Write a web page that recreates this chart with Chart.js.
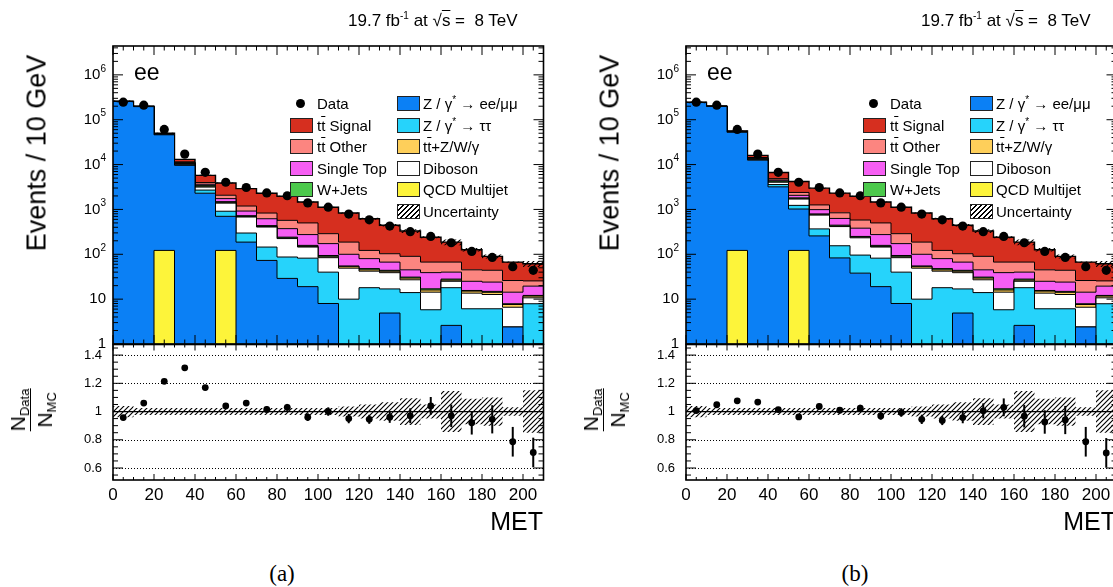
<!DOCTYPE html>
<html>
<head>
<meta charset="utf-8">
<title>MET ee control region</title>
<script src="https://cdn.jsdelivr.net/npm/chart.js@4.4.0/dist/chart.umd.min.js"></script>
<style>
  html, body { margin: 0; padding: 0; background: #fff; }
  body { width: 1113px; height: 587px; overflow: hidden; position: relative;
         font-family: "Liberation Sans", Arial, sans-serif; color: #000; }
  .fig { position: absolute; top: 0; width: 573px; height: 587px; }
  .fig canvas { position: absolute; left: 0; }
  .lbl { position: absolute; white-space: nowrap; line-height: 1; }
  .title { font-size: 17px; left: 348px; top: 12px; }
  .title sup { font-size: 10px; vertical-align: 7px; line-height: 0; }
  .ov { text-decoration: overline; text-decoration-thickness: 1px; }
  .ee { font-size: 23px; left: 134px; top: 61px; }
  .ytitle { font-size: 27px; left: 37px; top: 153px; transform: translate(-50%, -50%) rotate(-90deg); }
  .met { font-size: 25px; right: 30px; top: 509px; }
  .cap { font-family: "Liberation Serif", serif; font-size: 23px; top: 562px; left: 282px; transform: translateX(-50%); }
  .rtitle { left: 31px; top: 410px; transform: translate(-50%, -50%) rotate(-90deg);
            display: flex; flex-direction: column; align-items: center; font-size: 21px; }
  .rtitle sub { font-size: 13px; vertical-align: -4px; line-height: 0; }
  .rtitle .bar { align-self: stretch; height: 1px; background: #000; margin: 2px 0 3px 0; }
  .leg { font-size: 15px; }
  .sw { position: absolute; width: 23px; height: 15px; border: 1px solid #222; box-sizing: border-box; }
  .dot { position: absolute; width: 9px; height: 9px; border-radius: 50%; background: #000; }
</style>
</head>
<body>
<div class="fig" id="figA" style="left:0px"></div>
<div class="fig" id="figB" style="left:573px"></div>
<script>
// MET bins, 10 GeV wide
const binLow = [0, 10, 20, 30, 40, 50, 60, 70, 80, 90, 100, 110, 120, 130, 140, 150, 160, 170, 180, 190, 200];
const binHigh = 210;

// stacked backgrounds, bottom to top (events / bin)
const qcdMultijet = [0, 0, 122, 0, 0, 122, 0, 0, 0, 0, 0, 0, 0, 0, 0, 0, 0, 0, 0, 0, 0];
const zllA = [255000, 196000, 46000, 9600, 2300, 580, 187, 73, 29, 19, 8, 0, 0, 4.9, 0, 0, 2.6, 0, 0, 2.4, 0];
const zllB = [242000, 197700, 52400, 12530, 3190, 900, 257, 83, 38, 19, 8, 0, 0, 4.9, 0, 0, 2.6, 0, 0, 2.4, 0];
const ztautau = [800, 1200, 1000, 500, 400, 210, 111, 72, 58, 63, 32, 10, 18, 12, 14, 5.8, 15.4, 6.1, 6.1, 0, 7.9];
const diboson = [300, 500, 600, 500, 450, 470, 379, 260, 137, 63, 44, 39, 24, 22, 13, 8.5, 7, 7.5, 6.6, 4.2, 2.8];
const ttV = [5, 10, 15, 20, 40, 30, 15, 10, 7, 5, 4, 4, 3, 3, 2.5, 1.7, 1.5, 1.5, 1.5, 1, 1];
const wJets = [300, 300, 250, 350, 250, 80, 34, 21, 10, 8, 6, 2, 3, 2, 1.5, 1, 1.5, 0.5, 0.7, 0.3, 0.4];
const singleTop = [40, 100, 150, 200, 200, 250, 194, 184, 132, 117, 79, 45, 32, 23, 14, 22, 12, 9.4, 9.1, 6.4, 7.4];
const ttOther = [150, 300, 400, 300, 330, 330, 270, 210, 198, 225, 115, 87, 42, 36, 45, 28, 27, 20, 20, 11.7, 6];
const ttSignal = [400, 900, 1500, 1600, 1780, 1810, 1720, 1470, 1390, 960, 832, 643, 498, 340, 240, 173, 120, 81, 46, 41, 36];

// observed events
const dataCounts = [246000, 211000, 60700, 17100, 6730, 4040, 3085, 2335, 2020, 1400, 1120, 789, 586, 425, 320, 250, 181, 116, 85, 53, 44];

// data / MC ratio panels
const ratioA = [0.957, 1.06, 1.214, 1.31, 1.17, 1.04, 1.06, 1.015, 1.03, 0.96, 1.0, 0.95, 0.945, 0.96, 0.97, 1.04, 0.97, 0.92, 0.945, 0.786, 0.71];
const ratioB = [1.007, 1.048, 1.076, 1.067, 1.014, 0.962, 1.036, 1.01, 1.024, 0.969, 0.993, 0.945, 0.936, 0.957, 1.005, 1.03, 0.967, 0.926, 0.94, 0.786, 0.707];
const ratioErr = [0.003, 0.003, 0.005, 0.01, 0.015, 0.018, 0.02, 0.022, 0.024, 0.027, 0.03, 0.033, 0.032, 0.04, 0.053, 0.063, 0.08, 0.083, 0.1, 0.105, 0.105];
const relUnc = [0.04, 0.025, 0.025, 0.025, 0.025, 0.025, 0.025, 0.025, 0.025, 0.025, 0.025, 0.035, 0.05, 0.065, 0.095, 0.05, 0.145, 0.09, 0.1, 0.03, 0.15];

const colors = {
  qcd: '#fdf43a', zll: '#0b80f5', ztt: '#26d3fb', dib: '#ffffff', ttv: '#fecf5a',
  wj: '#4cc94c', st: '#f65ef3', tto: '#fc8580', tts: '#d62f1f'
};

const FONT = '"Liberation Sans", Arial, sans-serif';

function hatchPattern() {
  const c = document.createElement('canvas');
  c.width = 4.5; c.height = 4.5;
  c.width = 5; c.height = 5;
  const g = c.getContext('2d');
  g.strokeStyle = '#000';
  g.lineWidth = 1.15;
  g.beginPath();
  g.moveTo(0, 5); g.lineTo(5, 0);
  g.moveTo(-1, 1); g.lineTo(1, -1);
  g.moveTo(4, 6); g.lineTo(6, 4);
  g.stroke();
  return g.createPattern(c, 'repeat');
}

// histogram outline points: value i covers [binLow[i], binLow[i+1]]
function steps(vals) {
  const pts = vals.map((v, i) => ({ x: binLow[i], y: v }));
  pts.push({ x: binHigh, y: vals[vals.length - 1] });
  return pts;
}

const rootAxes = {
  id: 'rootAxes',
  beforeDatasetsDraw(chart, args, o) {
    if (!o.grid) return;
    const { ctx, chartArea: a } = chart;
    const y = chart.scales.y;
    ctx.save();
    ctx.strokeStyle = '#000';
    ctx.lineWidth = 1;
    ctx.setLineDash([1, 2]);
    o.grid.forEach(v => {
      const py = Math.round(y.getPixelForValue(v)) + 0.5;
      ctx.beginPath(); ctx.moveTo(a.left, py); ctx.lineTo(a.right, py); ctx.stroke();
    });
    ctx.restore();
  },
  afterDatasetsDraw(chart, args, o) {
    const { ctx, chartArea: a } = chart;
    const x = chart.scales.x, y = chart.scales.y;
    const seg = (x1, y1, x2, y2) => { ctx.beginPath(); ctx.moveTo(x1, y1); ctx.lineTo(x2, y2); ctx.stroke(); };
    ctx.save();
    ctx.strokeStyle = '#000';
    ctx.fillStyle = '#000';

    // error bars on the ratio points
    if (o.values) {
      ctx.lineWidth = 2;
      o.values.forEach((r, i) => {
        const px = x.getPixelForValue(binLow[i] + 5);
        seg(px, y.getPixelForValue(r - o.errors[i]), px, y.getPixelForValue(r + o.errors[i]));
      });
    }

    // ticks inside the frame, all four sides
    ctx.lineWidth = 1;
    for (let v = 0; v <= 210; v += 5) {
      const px = x.getPixelForValue(v);
      const len = v % 20 === 0 ? o.xMajor : o.xMinor;
      seg(px, a.bottom, px, a.bottom - len);
      seg(px, a.top, px, a.top + len);
    }
    o.yTicks.forEach(t => {
      const py = y.getPixelForValue(t.v);
      const len = t.major ? 10 : 5;
      seg(a.left, py, a.left + len, py);
      seg(a.right, py, a.right - len, py);
    });

    ctx.lineWidth = 1.6;
    ctx.strokeRect(a.left, a.top, a.right - a.left, a.bottom - a.top);

    // tick labels
    ctx.textBaseline = 'middle';
    ctx.textAlign = 'right';
    o.yLabels.forEach(l => {
      const py = y.getPixelForValue(l.v);
      const xr = a.left - o.labelGap;
      if (l.sup) {
        ctx.font = '10px ' + FONT;
        const w = ctx.measureText(l.sup).width;
        ctx.fillText(l.sup, xr, py - 6);
        ctx.font = o.yFont + 'px ' + FONT;
        ctx.fillText(l.text, xr - w, py);
      } else {
        ctx.font = o.yFont + 'px ' + FONT;
        ctx.fillText(l.text, xr, py);
      }
    });
    if (o.xLabels) {
      ctx.textAlign = 'center';
      ctx.textBaseline = 'top';
      ctx.font = '17px ' + FONT;
      for (let v = 0; v <= 200; v += 20) {
        ctx.fillText(String(v), x.getPixelForValue(v), a.bottom + 7);
      }
    }
    ctx.restore();
  }
};

function logTicks() {
  const t = [];
  for (let k = 0; k <= 6; k++) {
    for (let m = 1; m <= 9; m++) {
      const v = m * Math.pow(10, k);
      if (v < 4.4e6) t.push({ v: v, major: m === 1 });
    }
  }
  return t;
}
function ratioTicks() {
  const t = [];
  for (let i = 11; i <= 29; i++) t.push({ v: i * 0.05, major: i % 4 === 0 });
  return t;
}

function makeCanvas(host, top, h) {
  const c = document.createElement('canvas');
  c.width = 573; c.height = h;
  c.style.width = '573px'; c.style.height = h + 'px';
  c.style.top = top + 'px';
  host.appendChild(c);
  return c;
}

function addLabel(host, cls, html, style) {
  const d = document.createElement('div');
  d.className = 'lbl ' + cls;
  d.innerHTML = html;
  if (style) Object.assign(d.style, style);
  host.appendChild(d);
  return d;
}

const legendRows = [103.5, 125.3, 146.7, 168, 189.5, 211];
const legendCol1 = [
  ['Data', 'dot'],
  ['t<span class="ov">t</span> Signal', colors.tts],
  ['t<span class="ov">t</span> Other', colors.tto],
  ['Single Top', colors.st],
  ['W+Jets', colors.wj]
];
const legendCol2 = [
  ['Z / &gamma;<sup style="font-size:10px;vertical-align:6px;line-height:0">*</sup> &rarr; ee/&mu;&mu;', colors.zll],
  ['Z / &gamma;<sup style="font-size:10px;vertical-align:6px;line-height:0">*</sup> &rarr; &tau;&tau;', colors.ztt],
  ['t<span class="ov">t</span>+Z/W/&gamma;', colors.ttv],
  ['Diboson', colors.dib],
  ['QCD Multijet', colors.qcd],
  ['Uncertainty', 'hatch']
];

function buildLegend(host) {
  const cols = [[legendCol1, 289.5, 317], [legendCol2, 396.5, 423]];
  cols.forEach(([entries, sx, tx]) => {
    entries.forEach(([text, sw], r) => {
      const cy = legendRows[r];
      const m = document.createElement('div');
      if (sw === 'dot') {
        m.className = 'dot';
        Object.assign(m.style, { left: (sx + 6.5) + 'px', top: (cy - 4.5) + 'px' });
      } else {
        m.className = 'sw';
        Object.assign(m.style, { left: sx + 'px', top: (cy - 7.5) + 'px' });
        if (sw === 'hatch') {
          m.style.background = 'repeating-linear-gradient(135deg, #000 0 1px, #fff 1px 3.5px)';
        } else {
          m.style.background = sw;
        }
      }
      host.appendChild(m);
      addLabel(host, 'leg', text, { left: tx + 'px', top: (cy - 7.4) + 'px' });
    });
  });
}

function buildFigure(host, zll, ratio, tag) {
  const hatch = hatchPattern();
  const layers = [
    [qcdMultijet, colors.qcd], [zll, colors.zll], [ztautau, colors.ztt], [diboson, colors.dib],
    [ttV, colors.ttv], [wJets, colors.wj], [singleTop, colors.st], [ttOther, colors.tto], [ttSignal, colors.tts]
  ];
  const floor = 0.3; // log axis cannot show empty bins, keep them below the frame
  let cum = binLow.map(() => 0);
  const datasets = [];
  layers.forEach(([vals, col], k) => {
    cum = cum.map((c, i) => c + vals[i]);
    datasets.push({
      data: steps(cum.map(v => Math.max(v, floor))),
      stepped: true,
      fill: k === 0 ? 'start' : '-1',
      backgroundColor: col,
      borderColor: '#000',
      borderWidth: k === layers.length - 1 ? 1.4 : 1,
      pointRadius: 0,
      order: 1
    });
  });
  const total = cum;
  datasets.push({
    data: steps(total.map((t, i) => t * (1 - relUnc[i]))),
    stepped: true, fill: false, borderWidth: 0, pointRadius: 0, order: 0
  });
  datasets.push({
    data: steps(total.map((t, i) => t * (1 + relUnc[i]))),
    stepped: true, fill: '-1', backgroundColor: hatch, borderWidth: 0, pointRadius: 0, order: 0
  });
  datasets.push({
    data: dataCounts.map((v, i) => ({ x: binLow[i] + 5, y: v })),
    showLine: false, pointRadius: 4.6, pointBackgroundColor: '#000', pointBorderWidth: 0, order: -1
  });

  const decadeLabels = [
    { v: 1, text: '1' }, { v: 10, text: '10' }, { v: 100, text: '10', sup: '2' }, { v: 1e3, text: '10', sup: '3' },
    { v: 1e4, text: '10', sup: '4' }, { v: 1e5, text: '10', sup: '5' }, { v: 1e6, text: '10', sup: '6' }
  ];

  new Chart(makeCanvas(host, 0, 360), {
    type: 'line',
    data: { datasets: datasets },
    options: {
      responsive: false, animation: false, events: [],
      layout: { padding: { left: 113, right: 29.5, top: 46, bottom: 16 } },
      scales: {
        x: { type: 'linear', min: 0, max: 210, bounds: 'data', display: false },
        y: { type: 'logarithmic', min: 1, max: 4.4e6, bounds: 'data', display: false }
      },
      plugins: {
        legend: { display: false }, tooltip: { enabled: false },
        rootAxes: { xMajor: 9, xMinor: 4.5, yTicks: logTicks(), yLabels: decadeLabels, yFont: 15, labelGap: 7, xLabels: false }
      }
    },
    plugins: [rootAxes]
  });

  const rData = [
    { data: steps(relUnc.map(u => 1 - u)), stepped: true, fill: false, borderWidth: 0, pointRadius: 0, order: 2 },
    { data: steps(relUnc.map(u => 1 + u)), stepped: true, fill: '-1', backgroundColor: hatch, borderWidth: 0, pointRadius: 0, order: 2 },
    { data: [{ x: 0, y: 1 }, { x: 210, y: 1 }], borderColor: '#000', borderWidth: 1.2, pointRadius: 0, fill: false, order: 1 },
    { data: ratio.map((v, i) => ({ x: binLow[i] + 5, y: v })), showLine: false, pointRadius: 3.4,
      pointBackgroundColor: '#000', pointBorderWidth: 0, order: 0 }
  ];
  const ratioLabels = [
    { v: 0.6, text: '0.6' }, { v: 0.8, text: '0.8' }, { v: 1, text: '1' }, { v: 1.2, text: '1.2' }, { v: 1.4, text: '1.4' }
  ];

  new Chart(makeCanvas(host, 330, 180), {
    type: 'line',
    data: { datasets: rData },
    options: {
      responsive: false, animation: false, events: [],
      layout: { padding: { left: 113, right: 29.5, top: 14.5, bottom: 30 } },
      scales: {
        x: { type: 'linear', min: 0, max: 210, bounds: 'data', display: false },
        y: { type: 'linear', min: 0.515, max: 1.475, bounds: 'data', display: false }
      },
      plugins: {
        legend: { display: false }, tooltip: { enabled: false },
        rootAxes: { xMajor: 6, xMinor: 3, yTicks: ratioTicks(), yLabels: ratioLabels, yFont: 13, labelGap: 11,
                    xLabels: true, grid: [0.6, 0.8, 1.2, 1.4], values: ratio, errors: ratioErr }
      }
    },
    plugins: [rootAxes]
  });

  addLabel(host, 'title', '19.7 fb<sup>-1</sup> at &radic;<span class="ov">s</span> = &nbsp;8 TeV');
  addLabel(host, 'ee', 'ee');
  addLabel(host, 'ytitle', 'Events / 10 GeV');
  addLabel(host, 'met', 'MET');
  addLabel(host, 'rtitle', '<div>N<sub>Data</sub></div><div class="bar"></div><div>N<sub>MC</sub></div>');
  addLabel(host, 'cap', tag);
  buildLegend(host);
}

buildFigure(document.getElementById('figA'), zllA, ratioA, '(a)');
buildFigure(document.getElementById('figB'), zllB, ratioB, '(b)');
</script>
</body>
</html>
